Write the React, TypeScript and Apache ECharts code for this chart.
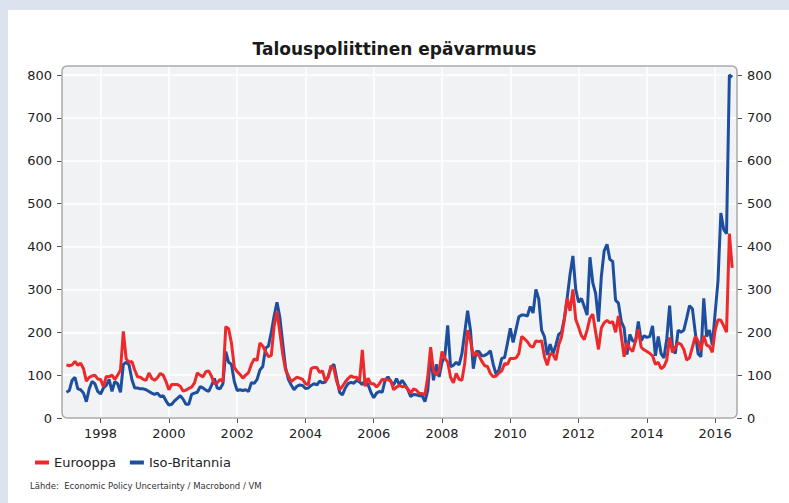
import React, { useEffect, useRef } from 'react';
import * as echarts from 'echarts';

const TITLE = 'Talouspoliittinen epävarmuus';
const SOURCE = 'Lähde:  Economic Policy Uncertainty / Macrobond / VM';
const START_YEAR = 1997; // monthly data from Jan 1997
const yearTicks = [1998, 2000, 2002, 2004, 2006, 2008, 2010, 2012, 2014, 2016];
const valueTicks = [0, 100, 200, 300, 400, 500, 600, 700, 800];
const seriesNames = ['Eurooppa', 'Iso-Britannia'];

// Eurooppa, monthly Jan 1997 - Jul 2016
const eurooppa = [
  124, 122, 124, 132, 123, 128, 115, 86, 95, 98, 100, 91,
  90, 73, 97, 96, 100, 90, 100, 112, 202, 138, 130, 132,
  112, 96, 95, 90, 88, 105, 92, 88, 94, 104, 100, 85,
  66, 78, 78, 78, 74, 63, 65, 69, 72, 82, 105, 100,
  96, 108, 110, 97, 80, 82, 90, 85, 213, 208, 175, 118,
  108, 102, 93, 100, 106, 125, 138, 134, 175, 168, 155, 143,
  146, 215, 248, 200, 150, 112, 98, 85, 90, 95, 93, 90,
  80, 78, 115, 118, 118, 106, 110, 86, 95, 122, 115, 85,
  66, 74, 84, 92, 98, 95, 95, 86, 159, 74, 93, 80,
  80, 72, 80, 90, 89, 89, 87, 66, 72, 76, 73, 74,
  68, 58, 68, 65, 57, 57, 54, 96, 165, 110, 100, 110,
  155, 140, 130, 95, 82, 104, 90, 88, 128, 205, 180, 145,
  152, 145, 132, 122, 120, 104, 96, 98, 105, 110, 127, 125,
  139, 139, 140, 150, 190, 185, 178, 168, 165, 180, 178, 180,
  143, 123, 150, 148, 135, 170, 189, 230, 279, 250, 300, 230,
  212, 192, 183, 205, 233, 242, 200, 160, 210, 222, 228, 222,
  225, 200, 238, 192, 143, 176, 162, 155, 180, 207, 165, 159,
  155, 151, 145, 125, 130, 115, 120, 135, 188, 153, 165, 175,
  172, 160, 135, 141, 165, 190, 180, 158, 192, 170, 167, 153,
  205, 229, 228, 215, 200, 430, 350,
];

// Iso-Britannia, monthly Jan 1997 - Jul 2016
const isoBritannia = [
  60, 64, 88, 95, 68, 66, 58, 38, 68, 85, 80, 62,
  56, 70, 76, 90, 62, 85, 80, 60, 125, 130, 124, 90,
  70, 70, 68, 68, 66, 62, 58, 55, 58, 50, 52, 40,
  30, 32, 40, 46, 52, 44, 32, 32, 55, 58, 60, 73,
  70, 65, 62, 76, 92, 70, 68, 80, 155, 130, 125, 85,
  64, 66, 64, 66, 62, 82, 81, 90, 112, 120, 163, 168,
  200, 238, 270, 235, 175, 118, 90, 77, 66, 74, 77, 76,
  69, 70, 76, 80, 77, 86, 82, 84, 97, 118, 125, 92,
  60, 54, 70, 80, 83, 81, 88, 84, 78, 88, 78, 60,
  47, 58, 62, 60, 88, 96, 85, 77, 92, 78, 88, 78,
  66, 50, 55, 54, 52, 52, 38, 65, 150, 88, 125, 96,
  130, 143, 216, 120, 123, 130, 124, 150, 200, 250, 205, 115,
  155, 155, 145, 146, 150, 157, 125, 102, 112, 139, 141, 174,
  209, 176, 206, 236, 240, 240, 238, 260, 245, 300, 278, 205,
  190, 147, 172, 150, 170, 195, 200, 232, 280, 335, 378, 300,
  270, 279, 260, 240, 375, 315, 290, 225, 330, 390, 405, 370,
  365, 275, 268, 225, 210, 148, 195, 180, 178, 225, 180, 192,
  188, 190, 215, 145, 190, 150, 140, 185, 262, 165, 150, 205,
  200, 205, 233, 262, 255, 200, 150, 143, 279, 190, 205, 170,
  245, 320, 478, 440, 430, 800, 795,
];

const RED = '#ec2a2c';
const BLUE = '#1d4f9e';
const FONT = 'DejaVu Sans';

export default function App() {
  const ref = useRef<HTMLDivElement>(null);

  useEffect(() => {
    if (!ref.current) return;
    const chart = echarts.init(ref.current, null, { renderer: 'svg' });
    const toPoints = (arr: number[]) => arr.map((v, i) => [START_YEAR + i / 12, v]);

    const yAxisCommon = {
      type: 'value',
      min: 0,
      max: 821,
      axisLine: { show: false },
      axisTick: { show: true, length: 5, customValues: valueTicks, lineStyle: { color: '#555', width: 1 } },
      axisLabel: { customValues: valueTicks, fontSize: 13, color: '#222', margin: 10, fontFamily: FONT },
    };

    chart.setOption({
      animation: false,
      title: {
        text: TITLE,
        left: 'center',
        top: 35,
        textStyle: { fontSize: 17, fontWeight: 'bold', color: '#1a1a1a', fontFamily: FONT },
      },
      grid: {
        left: 62,
        right: 52,
        top: 66,
        bottom: 85,
        show: true,
        backgroundColor: '#f1f2f4',
        borderWidth: 0,
      },
      legend: {
        data: seriesNames,
        left: 30,
        top: 451,
        icon: 'rect',
        itemWidth: 14,
        itemHeight: 4,
        itemGap: 14,
        textStyle: { fontSize: 13, color: '#222', fontFamily: FONT },
      },
      xAxis: {
        type: 'value',
        min: 1996.87,
        max: 2016.64,
        axisLine: { show: false },
        axisTick: { show: true, length: 5, customValues: yearTicks, lineStyle: { color: '#555' } },
        axisLabel: {
          customValues: yearTicks,
          formatter: (v: number) => String(v),
          fontSize: 13,
          color: '#222',
          margin: 9,
          fontFamily: FONT,
        },
        splitLine: { show: true, lineStyle: { color: '#ffffff', width: 1.5 } },
      },
      yAxis: [
        { ...yAxisCommon, position: 'left', splitLine: { show: true, lineStyle: { color: '#ffffff', width: 1.5 } } },
        { ...yAxisCommon, position: 'right', splitLine: { show: false } },
      ],
      graphic: [
        {
          type: 'rect',
          shape: { x: 62, y: 66, width: 675, height: 352, r: 5 },
          style: { fill: 'none', stroke: '#aaaaaa', lineWidth: 1.5 },
          silent: true,
          z: 10,
        },
        {
          type: 'text',
          left: 30,
          top: 481,
          style: { text: SOURCE, fontSize: 8.5, fill: '#333', fontFamily: FONT },
          silent: true,
        },
      ],
      series: [
        {
          name: seriesNames[1],
          type: 'line',
          data: toPoints(isoBritannia),
          symbol: 'none',
          lineStyle: { width: 3, color: BLUE },
          itemStyle: { color: BLUE },
          z: 3,
        },
        {
          name: seriesNames[0],
          type: 'line',
          data: toPoints(eurooppa),
          symbol: 'none',
          lineStyle: { width: 3, color: RED },
          itemStyle: { color: RED },
          z: 4,
        },
      ],
    });

    return () => chart.dispose();
  }, []);

  return (
    <div style={{ position: 'fixed', left: 0, top: 0, width: 789, height: 503, background: '#dce3ee' }}>
      <div style={{ position: 'absolute', left: 8, top: 10, right: 0, bottom: 0, background: '#ffffff' }} />
      <div ref={ref} style={{ position: 'absolute', left: 0, top: 0, width: 789, height: 503 }} />
    </div>
  );
}
